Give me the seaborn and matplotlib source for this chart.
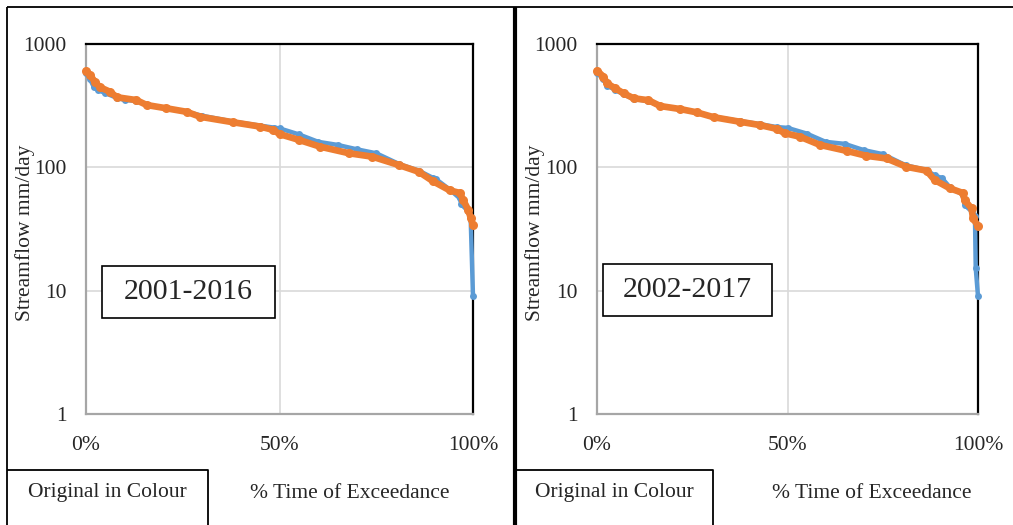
import numpy as np
import matplotlib.pyplot as plt
import seaborn as sns
from matplotlib.lines import Line2D
from matplotlib.patches import Rectangle

# % time of exceedance and streamflow (mm/day)
pct_obs_a = [0, 1, 2, 3, 5, 8, 10, 13, 16, 21, 26, 30, 38, 45, 48.5, 50, 55, 60, 65, 70, 75, 81,
             86, 89.7, 90.5, 94, 96.6, 97, 98.8, 99.4, 100]
flow_obs_a = [580, 520, 450, 424, 400, 365, 352, 345, 318, 300, 282, 262, 235, 218, 210, 207, 185,
              161, 152, 140, 130, 106, 94, 82, 80, 66, 56, 50, 44, 38, 9]
pct_sim_a = [0, 1, 2.3, 3.6, 6.2, 8, 13, 15.7, 20.8, 26, 29.5, 38, 45, 48.4, 50, 55, 60.5, 68, 74,
             81, 86, 89.7, 94, 96.6, 97.5, 98.8, 99.4, 100]
flow_sim_a = [608, 561, 494, 446, 410, 370, 351, 320, 301, 282, 257, 232, 214, 201, 186, 167, 147,
              130, 122, 104, 92, 77, 65, 62, 54, 45, 39, 34]

pct_obs_b = [0, 1.7, 2.6, 4.8, 7, 9.6, 13.5, 16.6, 21.8, 26.2, 30.6, 37.6, 42.8, 47.2, 50, 55, 60,
             65, 70, 75, 81, 86.5, 88.6, 90.5, 92.6, 96, 96.5, 98.3, 99.2, 99.4, 100]
flow_obs_b = [580, 520, 460, 425, 390, 358, 345, 312, 296, 279, 257, 237, 224, 212, 209, 188, 161,
              155, 138, 128, 104, 95, 86, 82, 69, 60, 49.5, 44, 40, 15.3, 9]
pct_sim_b = [0, 1.7, 2.6, 4.8, 7, 9.6, 13.5, 16.6, 21.8, 26.2, 30.6, 37.6, 42.8, 47.2, 49.3, 53.3,
             58.5, 65.5, 70.7, 76, 81.2, 86.5, 88.6, 92.6, 96, 96.5, 98.3, 98.7, 100]
flow_sim_b = [608, 543, 480, 437, 398, 363, 350, 314, 297, 279, 255, 234, 220, 205, 189, 177, 152,
              136, 124, 118, 101, 94, 79, 67.6, 62, 54, 46.5, 38.6, 33.4]

periods = ["2001-2016", "2002-2017"]
x_ticks = [0, 50, 100]
x_tick_labels = ["0%", "50%", "100%"]
y_ticks = [1, 10, 100, 1000]
y_tick_labels = ["1", "10", "100", "1000"]

blue = "#5B9BD5"
orange = "#ED7D31"

sns.set_style("white")
plt.rcParams["font.family"] = ["Liberation Serif", "DejaVu Serif"]

W, H = 1013, 525
fig = plt.figure(figsize=(W / 100, H / 100), dpi=100)


def px_axes(x0, x1, y0, y1):
    return fig.add_axes([x0 / W, 1 - y1 / H, (x1 - x0) / W, (y1 - y0) / H])


def fig_line(xs, ys, lw=1.3):
    fig.add_artist(Line2D([x / W for x in xs], [1 - y / H for y in ys], color="black",
                          lw=lw, transform=fig.transFigure, solid_capstyle="butt"))


panels = [
    dict(rect=(86, 473, 44, 414), obs=(pct_obs_a, flow_obs_a), sim=(pct_sim_a, flow_sim_a),
         box=(102, 275, 266, 318), ylab=25, xlab=350),
    dict(rect=(597, 978, 44, 414), obs=(pct_obs_b, flow_obs_b), sim=(pct_sim_b, flow_sim_b),
         box=(603, 772, 264, 316), ylab=535, xlab=872),
]

for p, period in zip(panels, periods):
    x0, x1, y0, y1 = p["rect"]
    ax = px_axes(x0, x1, y0, y1)
    ax.set_yscale("log")
    ax.set_xlim(0, 100)
    ax.set_ylim(1, 1000)
    ax.grid(True, which="major", color="#D9D9D9", lw=1.2)
    ax.set_axisbelow(True)

    sns.lineplot(x=p["obs"][0], y=p["obs"][1], ax=ax, color=blue, lw=3.2, marker="o",
                 markersize=5, markeredgewidth=0, zorder=3, clip_on=False)
    sns.lineplot(x=p["sim"][0], y=p["sim"][1], ax=ax, color=orange, lw=4.8, marker="o",
                 markersize=6.5, markeredgewidth=0, zorder=4, clip_on=False)

    ax.set_xticks(x_ticks)
    ax.set_xticklabels(x_tick_labels, fontsize=15.5)
    ax.set_yticks(y_ticks)
    ax.set_yticklabels(y_tick_labels, fontsize=15.5)
    ax.minorticks_off()
    ax.tick_params(axis="both", length=0)
    ax.tick_params(axis="x", pad=16)
    ax.tick_params(axis="y", pad=14)

    for side in ["top", "right"]:
        ax.spines[side].set_color("black")
        ax.spines[side].set_linewidth(1.6)
    for side in ["left", "bottom"]:
        ax.spines[side].set_color("#A6A6A6")
        ax.spines[side].set_linewidth(1.6)

    w = x1 - x0
    h = y1 - y0
    ax.set_ylabel("Streamflow mm/day", fontsize=15.5, va="center")
    ax.yaxis.set_label_coords((p["ylab"] - x0) / w, 0.49)
    ax.set_xlabel("% Time of Exceedance", fontsize=15.5, va="center")
    ax.xaxis.set_label_coords((p["xlab"] - x0) / w, (y1 - 494) / h)

    bx0, bx1, by0, by1 = p["box"]
    ax.add_patch(Rectangle(((bx0 - x0) / w, (y1 - by1) / h), (bx1 - bx0) / w, (by1 - by0) / h,
                           transform=ax.transAxes, fill=True, facecolor="white",
                           edgecolor="black", lw=1.2, zorder=5))
    ax.text(((bx0 + bx1) / 2 - x0) / w, (y1 - (by0 + by1) / 2) / h, period, fontsize=21.5,
            ha="center", va="center", transform=ax.transAxes, zorder=6)

# outer frame and caption boxes
fig_line([7, W], [7, 7])
fig_line([7, 7], [7, H])
fig_line([514.5, 514.5], [7, H], lw=3)
fig_line([7, 208, 208], [470, 470, H])
fig_line([516, 713, 713], [470, 470, H])
fig.text(107 / W, 1 - 493 / H, "Original in Colour", fontsize=15.5, ha="center", va="center")
fig.text(614 / W, 1 - 493 / H, "Original in Colour", fontsize=15.5, ha="center", va="center")

fig.savefig("out.png", dpi=100)
